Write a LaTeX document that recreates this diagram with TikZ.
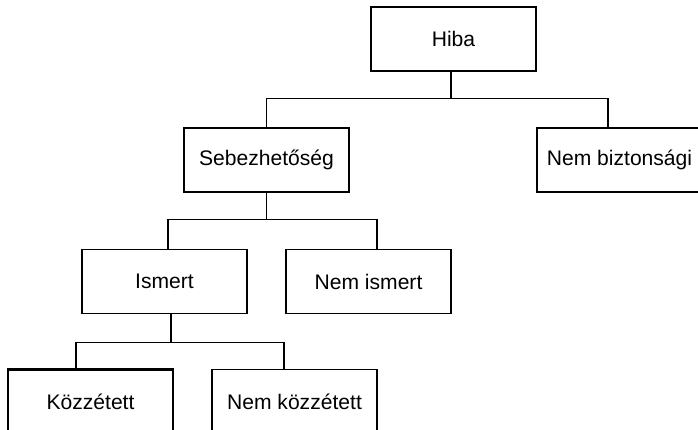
\documentclass[tikz,border=0pt]{standalone}
\usepackage{fontspec}
\setmainfont{Liberation Sans}
\usepackage{tikz}
\tikzset{every node/.style={font=\fontsize{12}{14}\selectfont}}

\begin{document}
\begin{tikzpicture}[
  line width=0.6pt,
  unit/.style={draw, minimum width=3.3cm, minimum height=1.28cm, inner sep=0pt},
  marked/.style={unit, line width=1.3pt}
% boxes of the chart; the marked one has a heavier frame
]
\useasboundingbox (0,0) rectangle (13.96,-8.6);

\path (9.07,-0.78) node[unit] (hiba) {Hiba};
\path (5.33,-3.2) node[unit] (sebez) {Sebezhetőség};
\path (12.39,-3.2) node[unit] (nembizt) {Nem biztonsági};
\path (3.29,-5.63) node[unit] (ismert) {Ismert};
\path (7.37,-5.63) node[unit] (nemismert) {Nem ismert};
\path (1.81,-8.03) node[marked] (kozz) {Közzétett};
\path (5.89,-8.03) node[unit] (nemkozz) {Nem közzétett};

\draw ([xshift=-0.05cm]hiba.south) -- ++(0,-0.54) -| (sebez.north);
\draw ([xshift=-0.05cm]hiba.south) -- ++(0,-0.54) -| ([xshift=-0.23cm]nembizt.north);

\draw (sebez.south) -- ++(0,-0.54) -| ([xshift=0.07cm]ismert.north);
\draw (sebez.south) -- ++(0,-0.54) -| ([xshift=0.17cm]nemismert.north);

\draw ([xshift=0.13cm]ismert.south) -- ++(0,-0.56) -| ([xshift=-0.29cm]kozz.north);
\draw ([xshift=0.13cm]ismert.south) -- ++(0,-0.56) -| ([xshift=-0.21cm]nemkozz.north);
\end{tikzpicture}
\end{document}
